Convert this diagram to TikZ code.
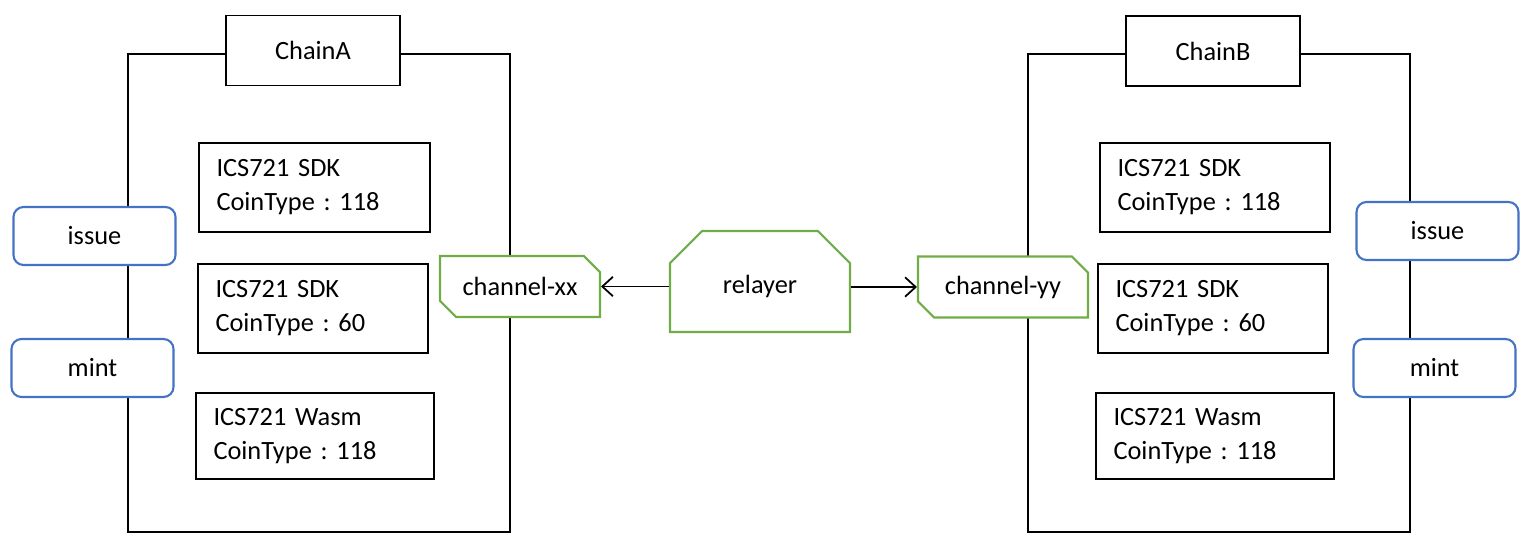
\documentclass[tikz,border=0pt]{standalone}
\usepackage{fontspec}
\setmainfont{Carlito}
\usetikzlibrary{shapes.misc, arrows.meta}
\definecolor{ibcblue}{HTML}{4472C4}
\definecolor{ibcgreen}{HTML}{70AD47}
\frenchspacing

\begin{document}
\begin{tikzpicture}[x=0.02cm, y=-0.02cm, >={Straight Barb[length=6pt, width=11pt]}, line width=1pt,
    font=\fontsize{15}{19.3}\selectfont,
    chainframe/.style={draw, minimum width=7.64cm, minimum height=9.56cm, inner sep=0pt},
    chaintitle/.style={draw, fill=white, minimum width=3.48cm, minimum height=1.4cm, inner sep=0pt},
    nftbox/.style={draw, fill=white, align=left, inner xsep=0.35cm, inner ysep=0pt, minimum height=1.78cm, text width=#1},
    action/.style={draw=ibcblue, line width=1.2pt, fill=white, rounded corners=0.2cm, minimum width=3.24cm, minimum height=1.16cm, inner sep=0pt},
    channel/.style={draw=ibcgreen, line width=1.2pt, fill=white, chamfered rectangle, chamfered rectangle corners={north east, south west}, chamfered rectangle xsep=0.16cm, chamfered rectangle ysep=0.16cm, minimum height=1.22cm, inner sep=0pt}]

    \useasboundingbox (0,0) rectangle (1528,552);

    % ChainA
    \node[chainframe] (frameA) at (319, 293) {};
    \node[chaintitle] (chainA) at (313, 50.5) {ChainA};
    \node[nftbox=3.92cm] (sdkA1) at (314.5, 187.5) {ICS721 SDK\\CoinType : 118};
    \node[nftbox=3.90cm] (sdkA2) at (313, 308.5) {ICS721 SDK\\CoinType : 60};
    \node[nftbox=4.06cm, minimum height=1.72cm] (wasmA) at (315, 436) {ICS721 Wasm\\CoinType : 118};
    \node[action] (issueA) at (94.5, 236) {issue};
    \node[action] (mintA) at (92.5, 368) {mint};

    % ChainB
    \node[chainframe] (frameB) at (1219, 293) {};
    \node[chaintitle] (chainB) at (1213, 51) {ChainB};
    \node[nftbox=3.90cm] (sdkB1) at (1215, 187.5) {ICS721 SDK\\CoinType : 118};
    \node[nftbox=3.90cm] (sdkB2) at (1213, 308.5) {ICS721 SDK\\CoinType : 60};
    \node[nftbox=4.06cm, minimum height=1.72cm] (wasmB) at (1215, 436) {ICS721 Wasm\\CoinType : 118};
    \node[action] (issueB) at (1437.5, 231) {issue};
    \node[action] (mintB) at (1434.5, 368) {mint};

    % relayer und channels
    \node[channel, minimum width=3.2cm] (chanxx) at (520, 286.5) {channel-xx};
    \node[channel, minimum width=3.4cm] (chanyy) at (1003, 287) {channel-yy};
    \node[channel, chamfered rectangle corners={north west, north east}, chamfered rectangle xsep=0.32cm, chamfered rectangle ysep=0.32cm, minimum width=3.6cm, minimum height=2.02cm, text height=17.4pt, text depth=3.3pt] (relayer) at (760, 281.5) {relayer};

    \draw[->] (relayer.west |- chanxx.east) -- (chanxx.east);
    \draw[->] (relayer.east |- chanyy.west) -- (chanyy.west);
\end{tikzpicture}
\end{document}
